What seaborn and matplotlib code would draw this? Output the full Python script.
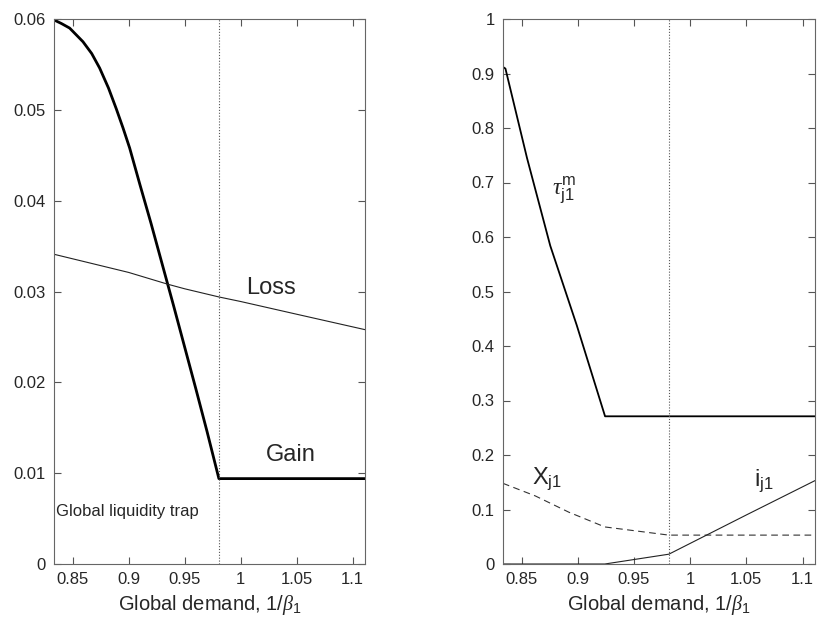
import matplotlib
matplotlib.use('Agg')
import matplotlib.pyplot as plt
import seaborn as sns
from matplotlib.ticker import FuncFormatter

# 가로축 범위 : 1/beta1, beta1 = 1.2 ~ 0.9
x_lo, x_hi = 1 / 1.2, 1 / 0.9
trap_x = 0.981  # global liquidity trap 경계 (점선)

# 왼쪽 그림 - Gain (굵은 선), Loss (가는 선)
gain_x = [0.8333, 0.840, 0.8473, 0.8592, 0.867, 0.8741, 0.882, 0.889, 0.895, 0.9009,
          0.910, 0.920, 0.930, 0.940, 0.950, 0.960, 0.970, 0.9806, 1.000, 1.050, 1.1111]
gain_y = [0.0599, 0.0595, 0.0590, 0.0575, 0.0562, 0.0546, 0.0524, 0.0501, 0.0480, 0.0458,
          0.0418, 0.0375, 0.0330, 0.0285, 0.0239, 0.0193, 0.0146, 0.0094, 0.0094, 0.0094, 0.0094]
loss_x = [0.8333, 0.860, 0.900, 0.935, 0.950, 0.9806, 1.000, 1.050, 1.1111]
loss_y = [0.0341, 0.0333, 0.0321, 0.0308, 0.0303, 0.0294, 0.0289, 0.0275, 0.0258]

# 오른쪽 그림 - tau_j1^m, X_j1, i_j1
tau_x = [0.8333, 0.8355, 0.8547, 0.8754, 0.899, 0.9242, 0.950, 1.000, 1.050, 1.1111]
tau_y = [0.912, 0.909, 0.745, 0.584, 0.438, 0.271, 0.271, 0.271, 0.271, 0.271]
xj_x = [0.8333, 0.862, 0.892, 0.924, 0.981, 1.050, 1.1111]
xj_y = [0.148, 0.125, 0.095, 0.068, 0.053, 0.053, 0.053]
ij_x = [0.8333, 0.900, 0.924, 0.981, 1.050, 1.1111]
ij_y = [0.0, 0.0, 0.0, 0.018, 0.090, 0.153]

x_ticks = [0.85, 0.9, 0.95, 1, 1.05, 1.1]
left_yticks = [0, 0.01, 0.02, 0.03, 0.04, 0.05, 0.06]
right_yticks = [i / 10 for i in range(11)]

sns.set_theme(style='ticks')
plt.rcParams['font.family'] = ['Liberation Sans', 'DejaVu Sans']
plt.rcParams['mathtext.fontset'] = 'custom'
plt.rcParams['mathtext.rm'] = 'Liberation Sans'
plt.rcParams['mathtext.it'] = 'Liberation Serif:italic'
plt.rcParams['mathtext.default'] = 'regular'

fig = plt.figure(figsize=(8.17, 6.28), dpi=100)
ax1 = fig.add_axes([54 / 817, 64 / 628, 311 / 817, 545 / 628])
ax2 = fig.add_axes([503 / 817, 64 / 628, 312 / 817, 545 / 628])

fmt = FuncFormatter(lambda v, p: f'{v:g}')
dot_style = (0, (1, 1.6))

# 왼쪽
sns.lineplot(x=gain_x, y=gain_y, color='black', linewidth=2.0, ax=ax1)
sns.lineplot(x=loss_x, y=loss_y, color='#222222', linewidth=0.8, ax=ax1)
ax1.axvline(trap_x, color='#555555', linestyle=dot_style, linewidth=0.8)
ax1.set_ylim(0, 0.06)
ax1.set_yticks(left_yticks)
ax1.text(1.005, 0.0304, 'Loss', fontsize=17, va='center', ha='left')
ax1.text(1.023, 0.0120, 'Gain', fontsize=17, va='center', ha='left')
ax1.text(0.8355, 0.0058, 'Global liquidity trap', fontsize=12, va='center', ha='left')

# 오른쪽
sns.lineplot(x=tau_x, y=tau_y, color='black', linewidth=1.3, ax=ax2)
sns.lineplot(x=xj_x, y=xj_y, color='#333333', linewidth=0.8, ax=ax2)
ax2.lines[-1].set_dashes([6, 4])
sns.lineplot(x=ij_x, y=ij_y, color='#222222', linewidth=0.8, ax=ax2)
ax2.axvline(trap_x, color='#555555', linestyle=dot_style, linewidth=0.8)
ax2.set_ylim(0, 1)
ax2.set_yticks(right_yticks)
ax2.text(0.877, 0.685, r'$\mathit{\tau}^{m}_{j1}$', fontsize=17, va='center', ha='left')
ax2.text(0.859, 0.155, r'X$_{j1}$', fontsize=17, va='center', ha='left')
ax2.text(1.057, 0.152, r'i$_{j1}$', fontsize=17, va='center', ha='left')

for ax in (ax1, ax2):
    ax.set_xlim(x_lo, x_hi)
    ax.set_xticks(x_ticks)
    ax.xaxis.set_major_formatter(fmt)
    ax.yaxis.set_major_formatter(fmt)
    ax.tick_params(direction='in', top=True, right=True, length=5, width=0.8,
                   color='#555555', labelsize=12, labelcolor='#262626', pad=6)
    for s in ax.spines.values():
        s.set_color('#666666')
        s.set_linewidth(0.8)
    ax.set_xlabel(r'Global demand, 1/$\mathit{\beta}_1$', fontsize=14.5, labelpad=4)

fig.savefig('out.png', dpi=100)
